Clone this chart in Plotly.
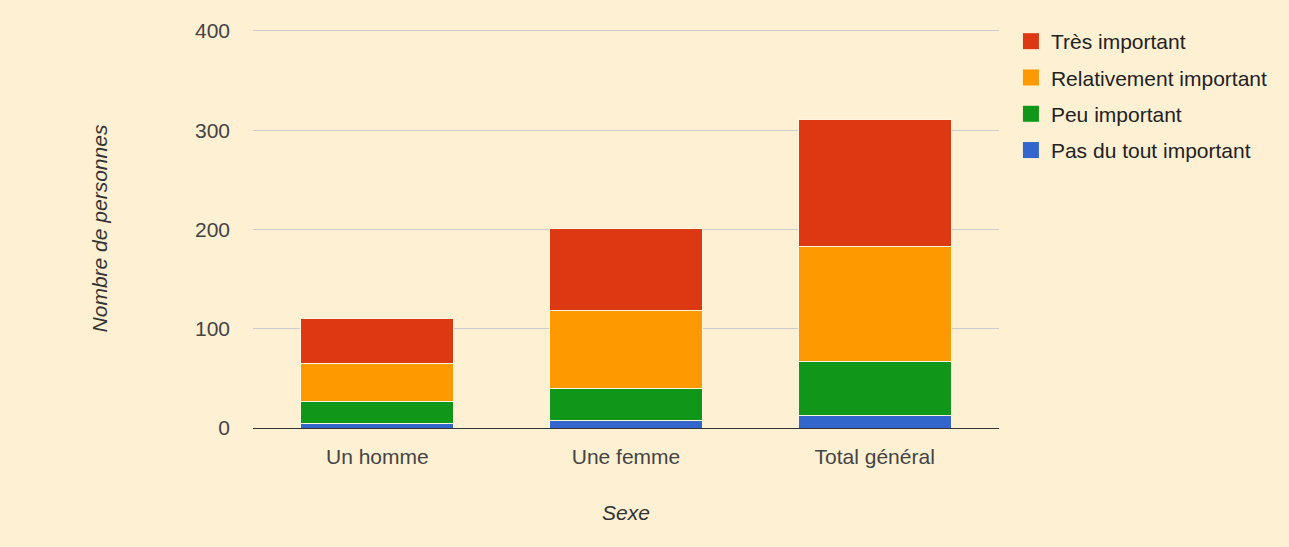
import plotly.graph_objects as go

categories = ["Un homme", "Une femme", "Total général"]
series_names = ["Pas du tout important", "Peu important", "Relativement important", "Très important"]
pas_du_tout = [5, 8, 13]
peu = [22, 32, 54]
relativement = [38, 78, 116]
tres = [45, 83, 128]
colors = ["#3366cc", "#109618", "#ff9900", "#dc3912"]

values = [pas_du_tout, peu, relativement, tres]
bg = "#fef0d3"
font = "Liberation Sans, Arial, sans-serif"

fig = go.Figure()
for name, vals, col in zip(series_names, values, colors):
    fig.add_trace(go.Bar(x=categories, y=vals, name=name,
                         marker=dict(color=col, line=dict(color="#fff6e0", width=1)),
                         showlegend=False))
# legend entries, top to bottom
for name, col in reversed(list(zip(series_names, colors))):
    fig.add_trace(go.Scatter(x=[None], y=[None], mode="markers", name=name, legendgroup=name,
                             marker=dict(symbol="square", size=16, color=col)))

fig.update_layout(
    width=1289, height=547,
    barmode="stack", bargap=0.385,
    paper_bgcolor=bg, plot_bgcolor=bg,
    margin=dict(l=253, r=290, t=29, b=119),
    font=dict(family=font, size=21, color="#444444"),
    legend=dict(x=1.016, xanchor="left", y=1.02, yanchor="top", traceorder="grouped",
                tracegroupgap=6, itemwidth=30, font=dict(size=21, color="#222222"),
                bgcolor="rgba(0,0,0,0)"),
    xaxis=dict(title=dict(text="<i>Sexe</i>", standoff=38, font=dict(size=21, color="#333333")),
               showline=True, linecolor="#333333", linewidth=1, ticks="", ticklabelstandoff=10),
    yaxis=dict(title=dict(text="<i>Nombre de personnes</i>", standoff=81, font=dict(size=21, color="#333333")),
               range=[0, 402], tickvals=[0, 100, 200, 300, 400], showgrid=True, gridcolor="#cccccc", gridwidth=1,
               zeroline=False, ticks="", ticklabelstandoff=22),
)
fig.write_html("out.html", config={"displayModeBar": False},
               post_script="document.body.style.margin='0';")
